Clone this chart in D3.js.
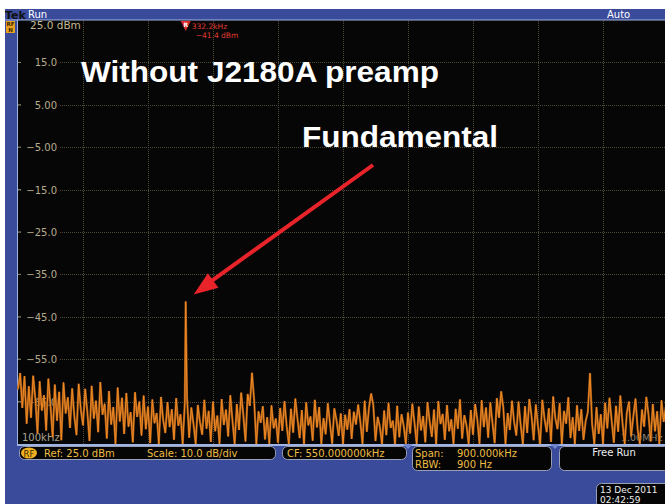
<!DOCTYPE html>
<html><head><meta charset="utf-8">
<script src="https://cdn.jsdelivr.net/npm/d3@7"></script>
<style>body{margin:0;background:#fff;}svg{display:block;}</style>
</head><body>
<script>
// ---------- data ----------
const startFreqKHz = 100, stopFreqKHz = 1000, stepKHz = 3;
const traceDbm = [
-62.1,-58.3,-66.5,-59.0,-70.2,-61.4,-68.8,-58.9,-64.3,-72.5,-60.2,-67.1,-63.5,-71.8,-59.6,-66.0,-73.4,-61.0,-69.5,-62.7,-74.1,-60.5,-67.8,-64.0,-71.2,-61.9,-68.4,-72.9,-60.8,-66.9,
-70.6,-62.0,-67.4,-74.3,-61.3,-69.0,-64.8,-72.2,-60.4,-68.1,-65.5,-73.7,-62.5,-70.4,-66.3,-75.0,-61.7,-69.7,-64.1,-72.6,-63.0,-70.9,-67.5,-74.6,-62.8,-68.6,-65.0,-73.0,-63.6,-71.5,
-66.2,-74.8,-64.5,-70.1,-67.7,-75.0,-63.9,-69.3,-72.4,-65.1,-71.0,-66.8,-74.0,-64.2,-70.7,-68.0,-75.0,-65.3,-64.0,-73.5,-66.4,-70.3,-75.0,-65.8,-69.9,-72.8,-64.6,-71.4,-67.2,-74.5,
-65.0,-72.0,-68.3,-75.0,-64.4,-70.5,-66.9,-73.2,-63.5,-69.6,-75.0,-65.6,-71.7,-62.9,-68.2,-74.4,-63.2,-66.0,-58.2,-64.7,-75.0,-67.3,-70.0,-66.1,-73.9,-68.7,-75.0,-65.9,-71.3,-69.0,
-74.7,-66.5,-71.9,-64.9,-70.8,-75.0,-66.7,-72.3,-64.3,-69.1,-73.6,-67.0,-75.0,-65.2,-70.6,-68.5,-74.2,-64.6,-71.1,-66.3,-75.0,-68.9,-72.7,-65.4,-70.2,-74.9,-66.6,-69.4,-73.1,-67.8,
-75.0,-68.1,-71.6,-66.8,-73.8,-67.4,-70.4,-65.7,-69.8,-75.0,-64.8,-72.1,-66.4,-63.1,-65.9,-74.3,-68.6,-70.9,-75.0,-67.1,-72.9,-65.3,-71.2,-69.5,-75.0,-66.0,-73.4,-68.0,-70.7,-75.0,
-67.6,-72.5,-65.5,-70.0,-75.0,-66.2,-71.8,-68.4,-74.6,-65.1,-69.7,-73.3,-66.9,-75.0,-64.9,-70.3,-67.9,-74.0,-65.8,-72.0,-69.2,-75.0,-66.7,-71.4,-64.5,-73.7,-68.2,-70.6,-75.0,-67.0,
-72.8,-65.6,-69.3,-75.0,-64.7,-71.0,-66.4,-73.5,-65.2,-70.1,-74.8,-64.2,-68.8,-62.6,-66.5,-75.0,-67.7,-71.7,-64.8,-69.9,-73.0,-65.0,-70.5,-75.0,-66.1,-72.4,-64.4,-68.3,-74.1,-65.7,
-70.8,-75.0,-64.6,-69.0,-72.2,-66.6,-74.5,-63.8,-68.9,-71.5,-65.4,-75.0,-67.2,-70.2,-64.0,-73.6,-68.7,-75.0,-65.9,-71.9,-66.8,-74.0,-69.6,-67.5,-58.3,-70.4,-75.0,-66.3,-72.6,-68.0,
-75.0,-65.3,-71.3,-64.1,-69.5,-74.7,-66.0,-72.1,-63.6,-70.0,-75.0,-67.6,-65.0,-73.2,-68.5,-64.3,-71.6,-75.0,-66.9,-70.9,-63.9,-68.1,-74.4,-65.6,-72.0,-67.3,-75.0,-64.7,-69.8,-66.2,
-71.0
];
const fundamentalKHz = 332.2, fundamentalDbm = -41.4;
const yGridDbm = [15, 5, -5, -15, -25, -35, -45, -55, -65];
const yTickLabels = ["15.0","5.00","\u22125.00","\u221215.0","\u221225.0","\u221235.0","\u221245.0","\u221255.0","\u221265.0"];
const xGridKHz = [190, 280, 370, 460, 550, 640, 730, 820, 910];
const refLabel = "25.0 dBm";
const markerLabels = ["332.2kHz", "\u221241.4 dBm"];
const title = "Without J2180A preamp";
const annotation = "Fundamental";

// ---------- drawing ----------
const W = 665, H = 504;
const BLUE = "#3a4b9c", LIGHT = "#9fb4e2";
const svg = d3.select("body").append("svg").attr("width", W).attr("height", H);

svg.append("rect").attr("width", W).attr("height", H).attr("fill", "#fff");
svg.append("rect").attr("x", 5).attr("y", 9).attr("width", W - 5).attr("height", H - 9).attr("fill", BLUE);

const x = d3.scaleLinear().domain([startFreqKHz, stopFreqKHz]).range([18, 668]);
const y = d3.scaleLinear().domain([-75, 25]).range([444, 20]);

// plot area
svg.append("rect").attr("x", 18).attr("y", 20).attr("width", W - 18).attr("height", 424).attr("fill", "#060606");
svg.append("line").attr("x1", 5).attr("x2", W).attr("y1", 20).attr("y2", 20).attr("stroke", LIGHT).attr("stroke-width", 1);
svg.append("line").attr("x1", 17.5).attr("x2", 17.5).attr("y1", 20).attr("y2", 445).attr("stroke", LIGHT).attr("stroke-width", 1);
svg.append("line").attr("x1", 17).attr("x2", W).attr("y1", 445).attr("y2", 445).attr("stroke", LIGHT).attr("stroke-width", 2);

// grid via axes
const gridColor = "#4d4a36";
const gx = svg.append("g").attr("transform", "translate(0,444)")
  .call(d3.axisBottom(x).tickValues(xGridKHz).tickSize(-424).tickFormat(""));
gx.select(".domain").remove();
gx.selectAll("line").attr("stroke", gridColor).attr("stroke-dasharray", "1,1").attr("shape-rendering", "crispEdges");
const gy = svg.append("g").attr("transform", "translate(18,0)")
  .call(d3.axisRight(y).tickValues(yGridDbm).tickSize(W - 18).tickFormat(""));
gy.select(".domain").remove();
gy.selectAll("line").attr("stroke", gridColor).attr("stroke-dasharray", "1,1").attr("shape-rendering", "crispEdges");

// y labels
const labFont = "'DejaVu Sans', sans-serif";
const lab = svg.append("g");
yGridDbm.forEach((v, i) => {
  lab.append("rect").attr("x", 22).attr("y", y(v) - 6).attr("width", 38).attr("height", 12).attr("fill", "#060606");
  lab.append("line").attr("x1", 18).attr("x2", 21).attr("y1", y(v)).attr("y2", y(v)).attr("stroke", "#8a8470");
  lab.append("text").attr("x", 57).attr("y", y(v) + 4).attr("text-anchor", "end")
    .attr("font-family", labFont).attr("font-size", 10).attr("fill", "#b6ab8e").text(yTickLabels[i]);
});
svg.append("text").attr("x", 30).attr("y", 29).attr("font-family", labFont).attr("font-size", 10.5)
  .attr("fill", "#c4b894").text(refLabel);
svg.append("text").attr("x", 22).attr("y", 441).attr("font-family", labFont).attr("font-size", 10)
  .attr("fill", "#a9a390").text("100kHz");
svg.append("text").attr("x", 621).attr("y", 441).attr("font-family", labFont).attr("font-size", 9.5)
  .attr("fill", "#8a8678").text("1.00MHz");

// trace
const pts = traceDbm.map((v, i) => [startFreqKHz + i * stepKHz, v]);
pts.push([fundamentalKHz, fundamentalDbm]);
pts.sort((a, b) => a[0] - b[0]);
const line = d3.line().x(d => x(d[0])).y(d => y(d[1]));
svg.append("path").datum(pts).attr("d", line).attr("fill", "none")
  .attr("stroke", "#9c5418").attr("stroke-width", 2.2);
svg.append("path").datum(pts).attr("d", line).attr("fill", "none")
  .attr("stroke", "#f08a22").attr("stroke-width", 1);

// marker
const mx = x(fundamentalKHz);
svg.append("path").attr("d", `M${mx - 5},21 L${mx + 5},21 L${mx},31 Z`).attr("fill", "#e02a2a");
svg.append("text").attr("x", mx).attr("y", 27).attr("text-anchor", "middle").attr("font-family", labFont)
  .attr("font-size", 6).attr("font-weight", "bold").attr("fill", "#fff").text("R");
svg.append("text").attr("x", mx + 6).attr("y", 29).attr("font-family", labFont).attr("font-size", 7.5)
  .attr("fill", "#e23a32").text(markerLabels[0]);
svg.append("text").attr("x", mx + 10).attr("y", 38).attr("font-family", labFont).attr("font-size", 7.5)
  .attr("fill", "#e23a32").text(markerLabels[1]);

// annotations
const annFont = "'Liberation Sans', Arial, sans-serif";
svg.append("text").attr("x", 81).attr("y", 82).attr("font-family", annFont)
  .attr("font-weight", "bold").attr("font-size", 29).attr("textLength", 358).attr("lengthAdjust", "spacingAndGlyphs")
  .attr("fill", "#fff").text(title);
svg.append("text").attr("x", 302).attr("y", 147).attr("font-family", annFont)
  .attr("font-weight", "bold").attr("font-size", 29).attr("textLength", 196).attr("lengthAdjust", "spacingAndGlyphs")
  .attr("fill", "#fff").text(annotation);
const tipX = mx + 8, tipY = y(fundamentalDbm) - 7;
svg.append("line").attr("x1", 373).attr("y1", 165).attr("x2", tipX + 10).attr("y2", tipY - 8)
  .attr("stroke", "#e8232a").attr("stroke-width", 4);
{
  const ang = Math.atan2(tipY - 165, tipX - 373);
  const L = 24, Wd = 9;
  const bx = tipX - L * Math.cos(ang), by = tipY - L * Math.sin(ang);
  const px = -Math.sin(ang) * Wd, py = Math.cos(ang) * Wd;
  svg.append("path").attr("d", `M${tipX},${tipY} L${bx + px},${by + py} L${bx - px},${by - py} Z`).attr("fill", "#e8232a");
}

// top bar
svg.append("text").attr("x", 5).attr("y", 19).attr("font-family", labFont).attr("font-weight", "bold")
  .attr("font-size", 11).attr("fill", "#111").text("Tek");
svg.append("text").attr("x", 28).attr("y", 18).attr("font-family", labFont).attr("font-size", 10)
  .attr("fill", "#fff").text("Run");
svg.append("text").attr("x", 607).attr("y", 18).attr("font-family", labFont).attr("font-size", 10)
  .attr("fill", "#fff").text("Auto");
svg.append("rect").attr("x", 6).attr("y", 21).attr("width", 9).attr("height", 12).attr("fill", "#e8a020");
svg.append("text").attr("x", 10.5).attr("y", 26).attr("text-anchor", "middle").attr("font-family", labFont)
  .attr("font-size", 5.5).attr("font-weight", "bold").attr("fill", "#3a2a00").text("RF");
svg.append("text").attr("x", 10.5).attr("y", 32).attr("text-anchor", "middle").attr("font-family", labFont)
  .attr("font-size", 5.5).attr("font-weight", "bold").attr("fill", "#3a2a00").text("N");

// status boxes
function box(x0, y0, w, h) {
  svg.append("rect").attr("x", x0).attr("y", y0).attr("width", w).attr("height", h).attr("rx", 5)
    .attr("fill", "#050505").attr("stroke", "#9aa0b8").attr("stroke-width", 1);
}
const sc = "#eebc44";
box(19.5, 446.5, 256, 13);
svg.append("ellipse").attr("cx", 29).attr("cy", 453).attr("rx", 8).attr("ry", 5.5).attr("fill", "#f0b020");
svg.append("text").attr("x", 29).attr("y", 456.5).attr("text-anchor", "middle").attr("font-family", labFont)
  .attr("font-size", 8.5).attr("fill", "#3a2a00").text("RF");
svg.append("text").attr("x", 44).attr("y", 456.5).attr("font-family", labFont).attr("font-size", 10).attr("fill", sc).text("Ref: 25.0 dBm");
svg.append("text").attr("x", 147).attr("y", 456.5).attr("font-family", labFont).attr("font-size", 10).attr("fill", sc).text("Scale: 10.0 dB/div");
box(282.5, 446.5, 124, 13);
svg.append("text").attr("x", 287).attr("y", 456.5).attr("font-family", labFont).attr("font-size", 10).attr("fill", sc).text("CF: 550.000000kHz");
box(412.5, 446.5, 139, 24);
svg.append("text").attr("x", 415).attr("y", 456.5).attr("font-family", labFont).attr("font-size", 10).attr("fill", sc).text("Span:");
svg.append("text").attr("x", 457).attr("y", 456.5).attr("font-family", labFont).attr("font-size", 10).attr("fill", sc).text("900.000kHz");
svg.append("text").attr("x", 415).attr("y", 468).attr("font-family", labFont).attr("font-size", 10).attr("fill", sc).text("RBW:");
svg.append("text").attr("x", 457).attr("y", 468).attr("font-family", labFont).attr("font-size", 10).attr("fill", sc).text("900 Hz");
box(559.5, 446.5, 110, 24);
svg.append("text").attr("x", 614).attr("y", 456).attr("text-anchor", "middle").attr("font-family", labFont).attr("font-size", 10).attr("fill", "#eee").text("Free Run");
// tabs
[408, 555].forEach(tx => svg.append("path").attr("d", `M${tx - 5},444 L${tx + 5},444 L${tx},449 Z`).attr("fill", "#6f86cc"));
// date box
box(596.5, 483.5, 75, 24);
svg.append("text").attr("x", 600).attr("y", 493).attr("font-family", labFont).attr("font-size", 9).attr("fill", "#eee").text("13 Dec 2011");
svg.append("text").attr("x", 600).attr("y", 503).attr("font-family", labFont).attr("font-size", 9).attr("fill", "#eee").text("02:42:59");
</script>
</body></html>
